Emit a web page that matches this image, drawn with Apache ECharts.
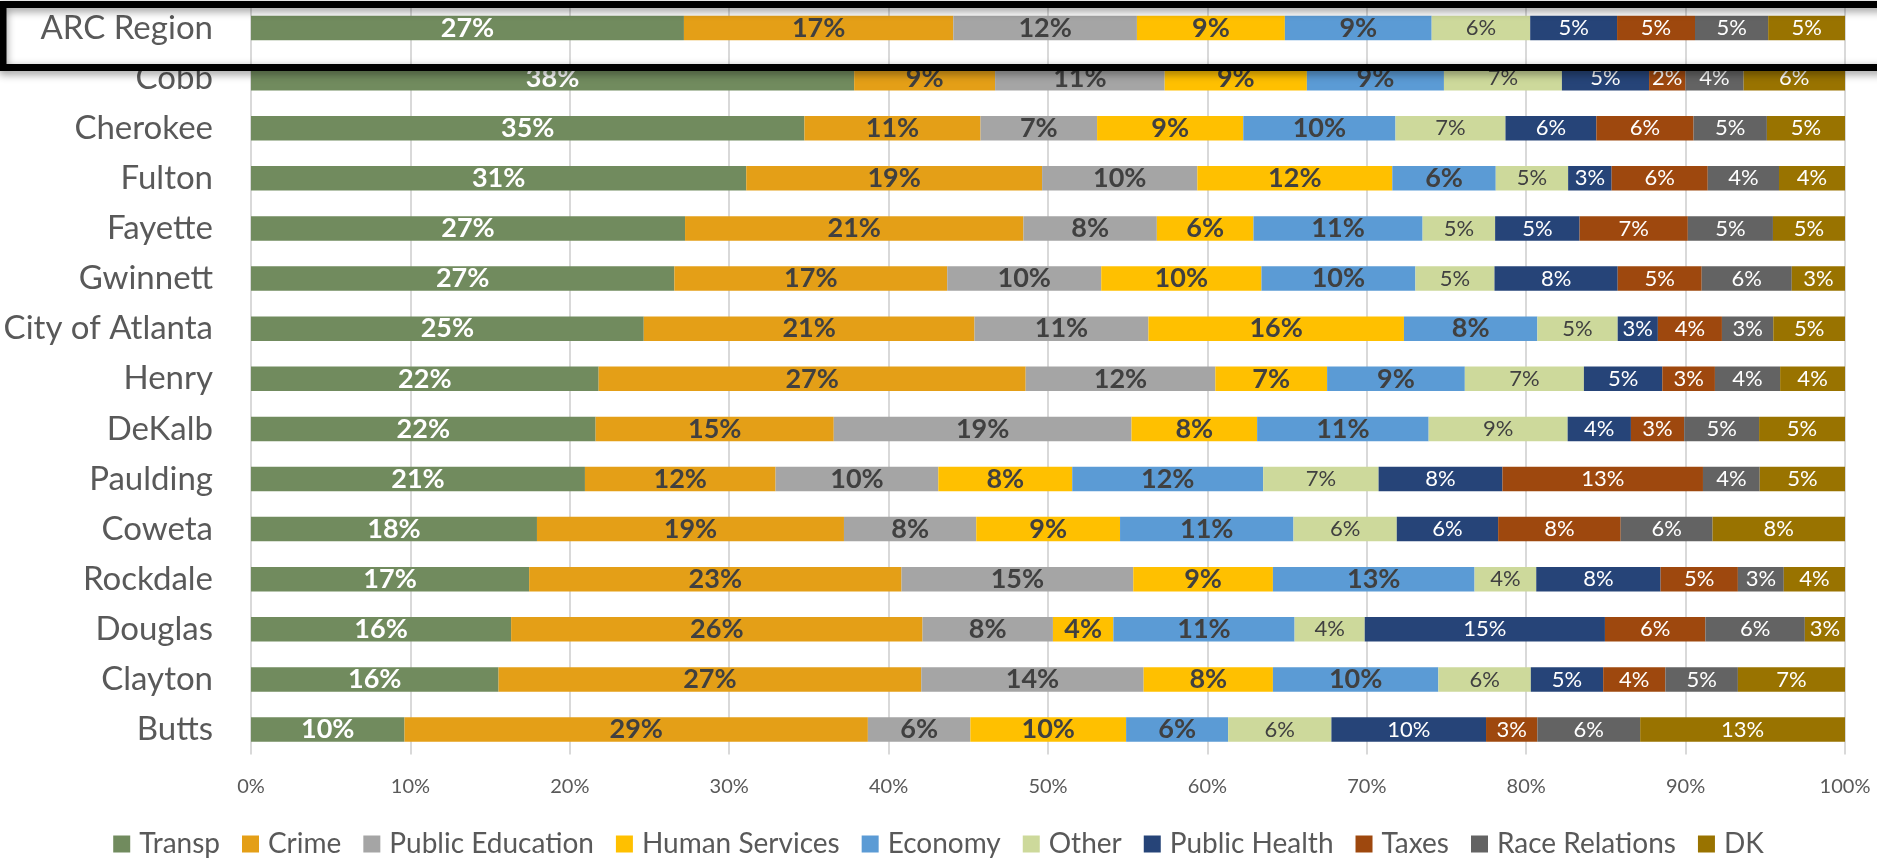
<!DOCTYPE html>
<html>
<head>
<meta charset="utf-8">
<script src="https://cdn.jsdelivr.net/npm/echarts@6/dist/echarts.min.js"></script>
<style>
html,body{margin:0;padding:0;background:#fff;}
#chart{width:1877px;height:859px;}
</style>
</head>
<body>
<div id="chart"></div>
<script>
const categories = ['ARC Region','Cobb','Cherokee','Fulton','Fayette','Gwinnett','City of Atlanta','Henry','DeKalb','Paulding','Coweta','Rockdale','Douglas','Clayton','Butts'];
const seriesNames = ['Transp','Crime','Public Education','Human Services','Economy','Other','Public Health','Taxes','Race Relations','DK'];
const transp = [27.16, 37.84, 34.72, 31.07, 27.23, 26.56, 24.64, 21.81, 21.62, 20.95, 17.94, 17.45, 16.32, 15.53, 9.63];
const crime = [16.90, 8.84, 11.05, 18.56, 21.23, 17.12, 20.75, 26.79, 14.94, 11.96, 19.26, 23.36, 25.81, 26.52, 29.07];
const publicEducation = [11.52, 10.64, 7.31, 9.74, 8.37, 9.66, 10.91, 11.90, 18.68, 10.21, 8.30, 14.54, 8.18, 13.95, 6.43];
const humanServices = [9.28, 8.92, 9.17, 12.23, 6.06, 10.05, 16.03, 7.01, 7.88, 8.40, 9.02, 8.76, 3.79, 8.11, 9.77];
const economy = [9.21, 8.60, 9.55, 6.49, 10.61, 9.66, 8.37, 8.64, 10.76, 11.98, 10.88, 12.65, 11.37, 10.38, 6.40];
const other = [6.18, 7.40, 6.90, 4.54, 4.55, 4.96, 5.04, 7.47, 8.72, 7.24, 6.48, 3.87, 4.40, 5.80, 6.48];
const publicHealth = [5.45, 5.47, 5.70, 2.73, 5.30, 7.73, 2.52, 4.92, 3.97, 7.77, 6.36, 7.80, 15.07, 4.54, 9.70];
const taxes = [4.89, 2.28, 6.10, 6.03, 6.79, 5.27, 4.02, 3.30, 3.34, 12.58, 7.69, 4.85, 6.30, 3.90, 3.22];
const raceRelations = [4.59, 3.65, 4.60, 4.47, 5.34, 5.65, 3.22, 4.09, 4.70, 3.56, 5.76, 2.88, 6.24, 4.55, 6.45];
const dk = [4.82, 6.40, 4.90, 4.14, 4.52, 3.34, 4.52, 4.07, 5.39, 5.35, 8.31, 3.84, 2.52, 6.72, 12.85];
const xTicks = [0,10,20,30,40,50,60,70,80,90,100];

const allData = [transp, crime, publicEducation, humanServices, economy, other, publicHealth, taxes, raceRelations, dk];
const colors = ['#718B5E','#E49F17','#A5A5A5','#FFC000','#5B9BD5','#CDD99B','#264478','#9E480E','#636363','#997300'];
const FONT = 'Lato';
const labelStyles = [
  {color:'#FFFFFF', fontWeight:'bold', fontSize:27},
  {color:'#404040', fontWeight:'bold', fontSize:27},
  {color:'#404040', fontWeight:'bold', fontSize:27},
  {color:'#404040', fontWeight:'bold', fontSize:27},
  {color:'#404040', fontWeight:'bold', fontSize:27},
  {color:'#404040', fontWeight:'normal', fontSize:22},
  {color:'#FFFFFF', fontWeight:'normal', fontSize:22},
  {color:'#FFFFFF', fontWeight:'normal', fontSize:22},
  {color:'#FFFFFF', fontWeight:'normal', fontSize:22},
  {color:'#FFFFFF', fontWeight:'normal', fontSize:22}
];

const chart = echarts.init(document.getElementById('chart'), null, {renderer:'canvas'});
const series = seriesNames.map((name, i) => ({
  name: name,
  type: 'bar',
  stack: 'total',
  data: allData[i],
  barWidth: 24.5,
  itemStyle: {color: colors[i]},
  label: {
    show: true,
    position: 'inside',
    fontFamily: FONT,
    color: labelStyles[i].color,
    fontWeight: labelStyles[i].fontWeight,
    fontSize: labelStyles[i].fontSize,
    formatter: p => Math.round(p.value) + '%'
  },
  emphasis: {disabled: true},
  animation: false
}));

chart.setOption({
  animation: false,
  textStyle: {fontFamily: FONT},
  grid: {left: 251, right: 32, top: 3, bottom: 104.4, containLabel: false},
  legend: {
    data: seriesNames,
    top: 825,
    left: 'center',
    icon: 'rect',
    itemWidth: 17,
    itemHeight: 17,
    itemGap: 22,
    textStyle: {fontFamily: FONT, fontSize: 28, color: '#595959', padding: [0,0,0,4]}
  },
  xAxis: {
    type: 'value',
    min: xTicks[0],
    max: xTicks[xTicks.length-1],
    interval: 10,
    axisLine: {show: false},
    axisTick: {show: false},
    axisLabel: {formatter: '{value}%', fontFamily: FONT, fontSize: 20, color: '#595959', margin: 22},
    splitLine: {show: true, lineStyle: {color: '#D9D9D9', width: 2}}
  },
  yAxis: {
    type: 'category',
    data: categories,
    inverse: true,
    axisLine: {show: false},
    axisTick: {show: false},
    axisLabel: {fontFamily: FONT, fontSize: 33, color: '#595959', margin: 38}
  },
  graphic: [{
    type: 'rect',
    z: 100,
    silent: true,
    shape: {x: 3, y: 4.5, width: 1920, height: 63},
    style: {fill: 'none', stroke: '#000000', lineWidth: 7, shadowBlur: 8, shadowColor: 'rgba(0,0,0,0.45)', shadowOffsetY: 3}
  }],
  series: series
});
</script>
</body>
</html>
